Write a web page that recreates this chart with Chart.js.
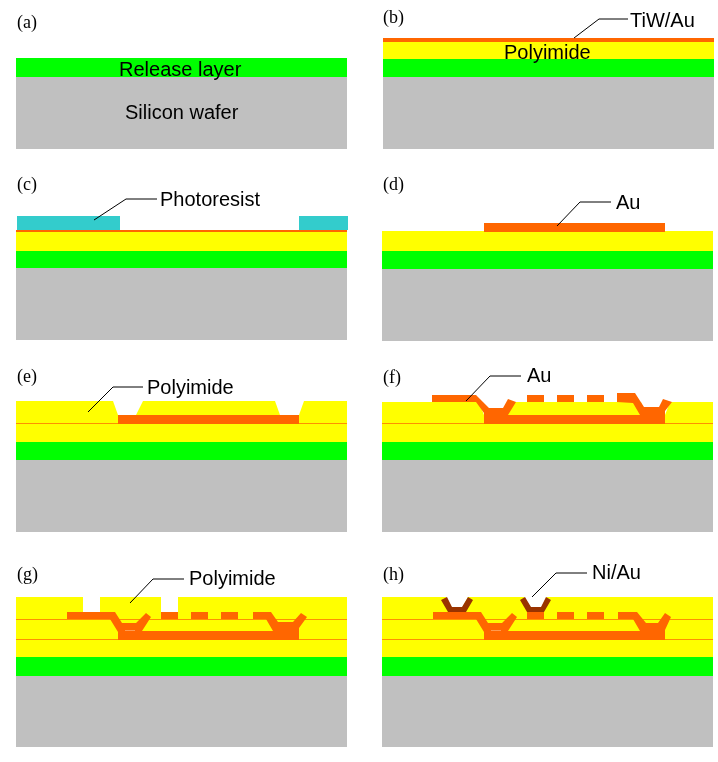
<!DOCTYPE html>
<html lang="en">
<head>
  <meta charset="UTF-8">
  <title>Process steps</title>
  <script src="https://cdn.jsdelivr.net/npm/chart.js"></script>
  <style>
    html, body { margin: 0; padding: 0; background: #fff; }
    canvas { display: block; }
  </style>
</head>
<body>
  <canvas id="myChart" width="718" height="762"></canvas>
  <script>
    // layers per step a-h as [left, top, right, bottom]
    const siliconLayers = [[16,77,347,149],[383,77,714,149],[16,268,347,340],[382,269,713,341],[16,460,347,532],[382,460,713,532],[16,676,347,747],[382,676,713,747]];
    const releaseLayers = [[16,58,347,77],[383,59,714,77],[16,251,347,268],[382,251,713,269],[16,442,347,460],[382,442,713,460],[16,657,347,676],[382,657,713,676]];
    const polyimideLayers = [[383,42,714,59],[16,232,347,251],[382,231,713,251],[16,401,347,442],[382,402,713,442],[16,597,347,657],[382,597,713,657]];
    const resistBlocks = [[17,216,120,230],[299,216,348,230]];
    const seamLines = [[16,423,347,424],[382,423,713,424],[16,619,347,620],[16,639,347,640],[382,619,713,620],[382,639,713,640]];
    const goldBlocks = [
      [383,38,714,42],[16,230,347,232],[484,223,665,232],[118,415,299,424],
      [527,395,544,402],[557,395,574,402],[587,395,604,402],
      [161,612,178,619],[191,612,208,619],[221,612,238,619],
      [527,612,544,619],[557,612,574,619],[587,612,604,619]
    ];
    const viaMarks = [[125,630,135,631],[491,630,501,631]];

    // openings etched in the polyimide
    const openings = [
      [[113,401],[143,401],[136,415],[118,415]],
      [[275,401],[304,401],[299,415],[280,415]],
      [[479,402],[509,402],[503,415],[484,415]],
      [[641,402],[670,402],[665,415],[646,415]],
      [[83,597],[100,597],[100,612],[83,612]],
      [[161,597],[178,597],[178,612],[161,612]],
      [[446,597],[468,597],[462,608],[452,608]],
      [[524,597],[547,597],[541,608],[531,608]]
    ];

    // metal traces that step down into the vias
    const goldTraces = [
      [[432,395],[476,395],[489,408],[503,408],[508,399],[516,402],[508,415],[640,415],[633,403],[617,402],[617,393],[635,393],[644,407],[659,407],[663,399],[672,402],[665,411],[665,424],[484,424],[484,413],[476,402],[432,402]],
      [[67,612],[115,612],[122,623],[136,623],[146,613],[151,617],[142,631],[273,631],[266,619],[253,619],[253,612],[271,612],[278,622],[293,622],[301,613],[307,617],[299,628],[299,640],[118,640],[118,632],[110,619],[67,619]],
      [[433,612],[481,612],[488,623],[502,623],[512,613],[517,617],[508,631],[640,631],[633,619],[618,619],[618,612],[637,612],[646,623],[658,623],[665,613],[671,617],[665,630],[665,640],[484,640],[484,632],[476,619],[433,619]]
    ];
    const nickelCaps = [
      [[441,600],[447,597],[452,607],[462,607],[468,597],[473,600],[466,612],[448,612]],
      [[520,600],[525,597],[531,607],[541,607],[546,597],[551,600],[544,612],[527,612]]
    ];

    const leaderLines = [
      [[574,38],[599,19],[628,19]],
      [[94,220],[126,199],[157,199]],
      [[557,226],[580,202],[611,202]],
      [[88,412],[113,387],[143,387]],
      [[466,401],[490,376],[521,376]],
      [[130,603],[153,579],[184,579]],
      [[532,597],[556,573],[587,573]]
    ];

    const stepLabels = ['(a)', '(b)', '(c)', '(d)', '(e)', '(f)', '(g)', '(h)'];
    const stepLabelX = [17, 383, 17, 383, 17, 383, 17, 383];
    const stepLabelY = [28, 23, 190, 190, 382, 383, 580, 580];
    const calloutLabels = ['Release layer', 'Silicon wafer', 'TiW/Au', 'Polyimide', 'Photoresist', 'Au', 'Polyimide', 'Au', 'Polyimide', 'Ni/Au'];
    const calloutX = [119, 125, 630, 504, 160, 616, 147, 527, 189, 592];
    const calloutY = [76, 119, 27, 59, 206, 209, 394, 382, 585, 579];

    const toPoints = shape => shape.map(([x, y]) => ({ x, y }));
    const rectToShape = ([l, t, r, b]) => [[l, t], [r, t], [r, b], [l, b]];

    const datasets = [];
    const addShapes = (shapes, color) => shapes.forEach(shape => {
      datasets.push({ data: toPoints(shape), polyColor: color, showLine: false, pointRadius: 0 });
    });
    const addLines = (lines, color, width) => lines.forEach(line => {
      datasets.push({ data: toPoints(line), showLine: true, borderColor: color, borderWidth: width, pointRadius: 0, tension: 0 });
    });

    // back to front
    addShapes(siliconLayers.map(rectToShape), '#c0c0c0');
    addShapes(releaseLayers.map(rectToShape), '#00ff00');
    addShapes(polyimideLayers.map(rectToShape), '#ffff00');
    addShapes(openings, '#ffffff');
    addShapes(resistBlocks.map(rectToShape), '#33cccc');
    addShapes(seamLines.map(rectToShape), '#ff9000');
    addShapes(goldBlocks.map(rectToShape), '#ff6600');
    addShapes(goldTraces, '#ff6600');
    addShapes(viaMarks.map(rectToShape), '#ff9a50');
    addShapes(nickelCaps, '#993300');
    addLines(leaderLines, '#000000', 1);
    // chart.js paints the highest order first
    datasets.forEach((d, i) => { d.order = datasets.length - i; });

    // fills each closed shape from the points the scales placed
    const polygonFill = {
      id: 'polygonFill',
      beforeDatasetDraw(chart, args) {
        const color = chart.data.datasets[args.index].polyColor;
        if (!color) return;
        const pts = args.meta.data;
        const ctx = chart.ctx;
        ctx.save();
        ctx.fillStyle = color;
        ctx.beginPath();
        pts.forEach((p, i) => i ? ctx.lineTo(p.x, p.y) : ctx.moveTo(p.x, p.y));
        ctx.closePath();
        ctx.fill();
        ctx.restore();
      }
    };

    const textLabels = {
      id: 'textLabels',
      afterDraw(chart) {
        const { ctx, scales: { x, y } } = chart;
        ctx.save();
        ctx.fillStyle = '#000';
        ctx.textBaseline = 'alphabetic';
        ctx.font = '18px "Liberation Serif"';
        stepLabels.forEach((t, i) => ctx.fillText(t, x.getPixelForValue(stepLabelX[i]), y.getPixelForValue(stepLabelY[i])));
        ctx.font = '20px "Liberation Sans"';
        calloutLabels.forEach((t, i) => ctx.fillText(t, x.getPixelForValue(calloutX[i]), y.getPixelForValue(calloutY[i])));
        ctx.restore();
      }
    };

    new Chart(document.getElementById('myChart'), {
      type: 'scatter',
      data: { datasets },
      plugins: [polygonFill, textLabels],
      options: {
        responsive: false,
        animation: false,
        layout: { padding: 0 },
        plugins: { legend: { display: false }, tooltip: { enabled: false } },
        scales: {
          x: { type: 'linear', display: false, min: 0, max: 718 },
          y: { type: 'linear', display: false, min: 0, max: 762, reverse: true }
        }
      }
    });
  </script>
</body>
</html>
